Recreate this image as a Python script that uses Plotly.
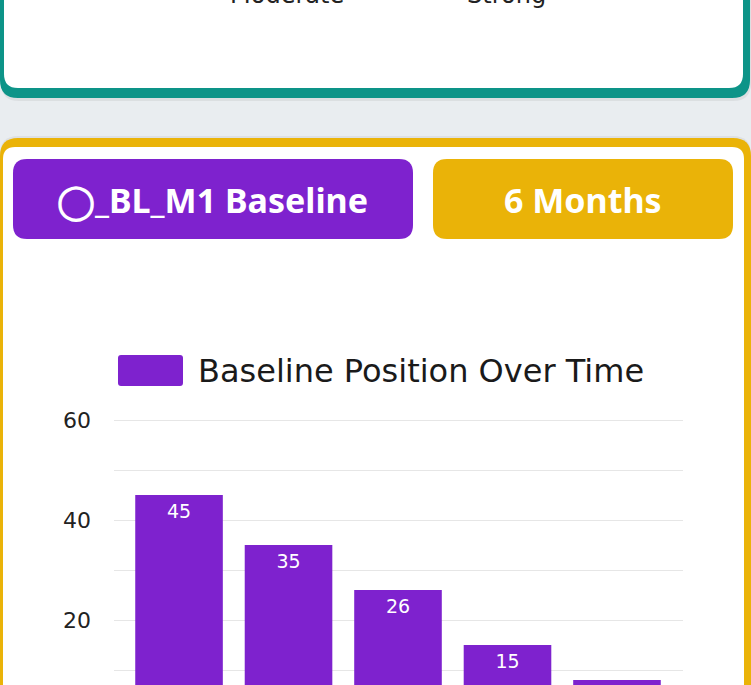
import plotly.graph_objects as go

W, H = 751, 685

# ---- data ----
categories = ["Baseline", "1 Month", "2 Months", "3 Months", "6 Months"]
values = [45, 35, 26, 15, 8]
series_name = "Baseline Position Over Time"
y_tick_vals = [10, 20, 30, 40, 50, 60]
y_tick_text = ["", "20", "", "40", "", "60"]
strength_labels = ["Moderate", "Strong"]
button_labels = ["◯_BL_M1 Baseline", "6 Months"]

PURPLE = "#7e22ce"
YELLOW = "#eab308"
TEAL = "#0d9488"
BG = "#e9edf0"
CHART_FONT = "DejaVu Sans"


def px(x):
    return x / W


def py(y):
    return 1 - y / H


def rrect(x0, y0, x1, y1, r):
    def P(x, y):
        return f"{px(x):.5f},{py(y):.5f}"
    d = (f"M {P(x0 + r, y0)} L {P(x1 - r, y0)} Q {P(x1, y0)} {P(x1, y0 + r)} "
         f"L {P(x1, y1 - r)} Q {P(x1, y1)} {P(x1 - r, y1)} "
         f"L {P(x0 + r, y1)} Q {P(x0, y1)} {P(x0, y1 - r)} "
         f"L {P(x0, y0 + r)} Q {P(x0, y0)} {P(x0 + r, y0)} Z")
    return d


def shape(path, color):
    return dict(type="path", xref="paper", yref="paper", path=path,
                fillcolor=color, line=dict(width=0), layer="below")


shapes = [
    # soft shadows
    shape(rrect(1, -40, 751, 101, 18), "rgba(0,0,0,0.06)"),
    shape(rrect(0, 136, 751, 760, 18), "rgba(0,0,0,0.05)"),
    # top card (teal border)
    shape(rrect(0, -40, 750, 98, 18), TEAL),
    shape(rrect(4, -40, 743, 88, 14), "white"),
    # bottom card (yellow border)
    shape(rrect(0, 138, 751, 760, 18), YELLOW),
    shape(rrect(3, 147, 744, 760, 12), "white"),
    # buttons
    shape(rrect(13, 159, 413, 239, 14), PURPLE),
    shape(rrect(433, 159, 733, 239, 14), YELLOW),
    # legend box
    shape(rrect(118, 355, 183, 386, 3), PURPLE),
]

annotations = [
    dict(text=strength_labels[0], x=px(287), y=py(11), xref="paper", yref="paper",
         xanchor="center", yanchor="bottom", showarrow=False,
         font=dict(family=CHART_FONT, size=24, color="#222")),
    dict(text=strength_labels[1], x=px(506), y=py(11), xref="paper", yref="paper",
         xanchor="center", yanchor="bottom", showarrow=False,
         font=dict(family=CHART_FONT, size=24, color="#222")),
    dict(text=f"<b>{button_labels[0]}</b>", x=px(212), y=py(200), xref="paper", yref="paper",
         xanchor="center", yanchor="middle", showarrow=False,
         font=dict(family="Noto Sans", size=34, color="white")),
    dict(text=f"<b>{button_labels[1]}</b>", x=px(583), y=py(200), xref="paper", yref="paper",
         xanchor="center", yanchor="middle", showarrow=False,
         font=dict(family="Noto Sans", size=34, color="white")),
    dict(text=series_name, x=px(196), y=py(371), xref="paper", yref="paper",
         xanchor="left", yanchor="middle", showarrow=False,
         font=dict(family=CHART_FONT, size=32, color="#1a1a1a")),
]

fig = go.Figure()
fig.add_trace(go.Bar(
    x=categories, y=values, name=series_name,
    marker=dict(color=PURPLE, line=dict(width=0)),
    showlegend=False, hoverinfo="skip",
))
fig.add_trace(go.Scatter(
    x=categories, y=values, mode="markers+text",
    marker=dict(size=12, opacity=0),
    text=[str(v) for v in values], textposition="bottom center",
    textfont=dict(family=CHART_FONT, size=19, color="white"),
    showlegend=False, hoverinfo="skip", cliponaxis=True,
))

Y_MIN, Y_MAX = 7, 60.4
fig.update_layout(
    width=W, height=H, autosize=False,
    margin=dict(l=0, r=0, t=0, b=0),
    paper_bgcolor=BG, plot_bgcolor="rgba(0,0,0,0)",
    bargap=0.2,
    shapes=shapes, annotations=annotations,
    xaxis=dict(domain=[px(114), px(683)], range=[-0.594, 4.603],
               showticklabels=False, showgrid=False, zeroline=False,
               automargin=False, fixedrange=True),
    yaxis=dict(domain=[0, py(685 - (Y_MAX - Y_MIN) * 5)], range=[Y_MIN, Y_MAX],
               tickvals=y_tick_vals, ticktext=y_tick_text,
               showgrid=True, gridcolor="#e6e6e6", gridwidth=1,
               zeroline=False, showline=False, ticks="",
               ticklabelstandoff=22,
               tickfont=dict(family=CHART_FONT, size=22, color="#222"),
               automargin=False, fixedrange=True),
)

fig.write_html("out.html", config={"displayModeBar": False},
               post_script="document.body.style.margin='0';")
